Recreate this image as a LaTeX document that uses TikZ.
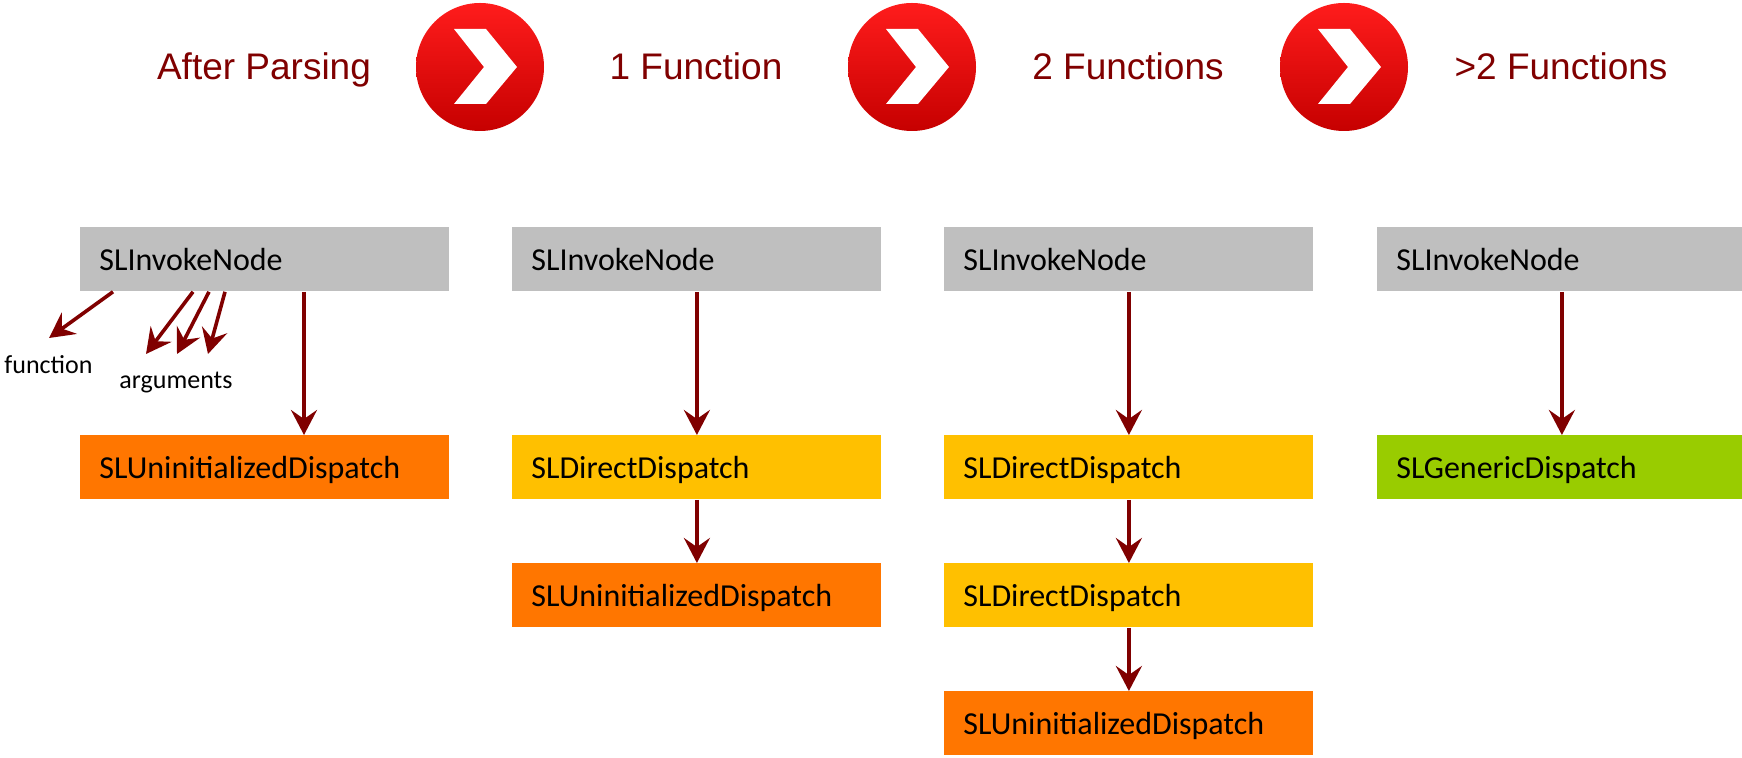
\documentclass[tikz,border=0pt]{standalone}
\usepackage{fontspec}
\setmainfont{Liberation Sans}
\newfontfamily\boxfont{Carlito}
\usetikzlibrary{arrows.meta,calc}
\definecolor{maroon}{RGB}{128,0,0}
\definecolor{boxgrey}{RGB}{191,191,191}
\definecolor{boxorange}{RGB}{255,118,0}
\definecolor{boxyellow}{RGB}{255,192,0}
\definecolor{boxgreen}{RGB}{153,204,0}
\definecolor{redtop}{RGB}{255,28,28}
\definecolor{redbot}{RGB}{198,0,0}

\begin{document}
\begin{tikzpicture}[x=0.5pt,y=-0.5pt,
		box/.style={anchor=north west,inner xsep=9.5pt,inner ysep=0pt,text width=165.5pt,minimum height=32pt,text height=11.5pt,text depth=0pt,align=left,font=\boxfont\fontsize{16}{18}\selectfont},
		head/.style={anchor=base,text=maroon,font=\fontsize{18.5}{22}\selectfont},
		bullet/.style={circle,inner sep=0pt,minimum size=64pt,top color=redtop,bottom color=redbot,draw=none},
		link/.style={draw=maroon,line width=1.8pt,-{Stealth[length=12.5pt,width=13pt,inset=4.5pt]}},
		lab/.style={anchor=base,font=\boxfont\fontsize{13}{15}\selectfont}]
		\useasboundingbox (0,0) rectangle (1742,758);
		
		% header
		\node[head](h1)at(264,80) {After Parsing};
		\node[head](h2)at(696,80) {1 Function};
		\node[head](h3)at(1128,80) {2 Functions};
		\node[head](h4)at(1561,80) {>2 Functions};
		\node[bullet](c1)at(480,67) {};
		\node[bullet](c2)at(912,67) {};
		\node[bullet](c3)at(1344,67) {};
		\foreach \c in {c1,c2,c3}
			\fill[white,shift={(\c.center)}] (-26,-38) -- (6,-38) -- (37,0) -- (6,37) -- (-26,37) -- (4,0) -- cycle;
		
		% after parsing
		\node[box,fill=boxgrey](i1)at(80,227) {SLInvokeNode};
		\node[box,fill=boxorange](u1)at(80,435) {SLUninitializedDispatch};
		\node[lab](fn)at(48.5,374) {function};
		\node[lab](args)at(176,389) {arguments};
		\coordinate (f1) at (49,338);
		\coordinate (a1) at (146,354);
		\coordinate (a2) at (177,354);
		\coordinate (a3) at (208,354);
		\draw[link] ($(i1.south west)+(33,0)$) -- (f1);
		\draw[link] ($(i1.south west)+(113,0)$) -- (a1);
		\draw[link] ($(i1.south west)+(129,0)$) -- (a2);
		\draw[link] ($(i1.south west)+(145,0)$) -- (a3);
		\draw[link] ($(i1.south west)+(224,0)$) -- ($(u1.north west)+(224,0)$);
		
		% 1 function
		\node[box,fill=boxgrey](i2)at(512,227) {SLInvokeNode};
		\node[box,fill=boxyellow](d2)at(512,435) {SLDirectDispatch};
		\node[box,fill=boxorange](u2)at(512,563) {SLUninitializedDispatch};
		\draw[link](i2) -- (d2);
		\draw[link](d2) -- (u2);
		
		% 2 functions
		\node[box,fill=boxgrey](i3)at(944,227) {SLInvokeNode};
		\node[box,fill=boxyellow](d3)at(944,435) {SLDirectDispatch};
		\node[box,fill=boxyellow](e3)at(944,563) {SLDirectDispatch};
		\node[box,fill=boxorange](u3)at(944,691) {SLUninitializedDispatch};
		\draw[link](i3) -- (d3);
		\draw[link](d3) -- (e3);
		\draw[link](e3) -- (u3);
		
		% >2 functions
		\node[box,fill=boxgrey](i4)at(1377,227) {SLInvokeNode};
		\node[box,fill=boxgreen](g4)at(1377,435) {SLGenericDispatch};
		\draw[link](i4) -- (g4);
	\end{tikzpicture}
\end{document}
